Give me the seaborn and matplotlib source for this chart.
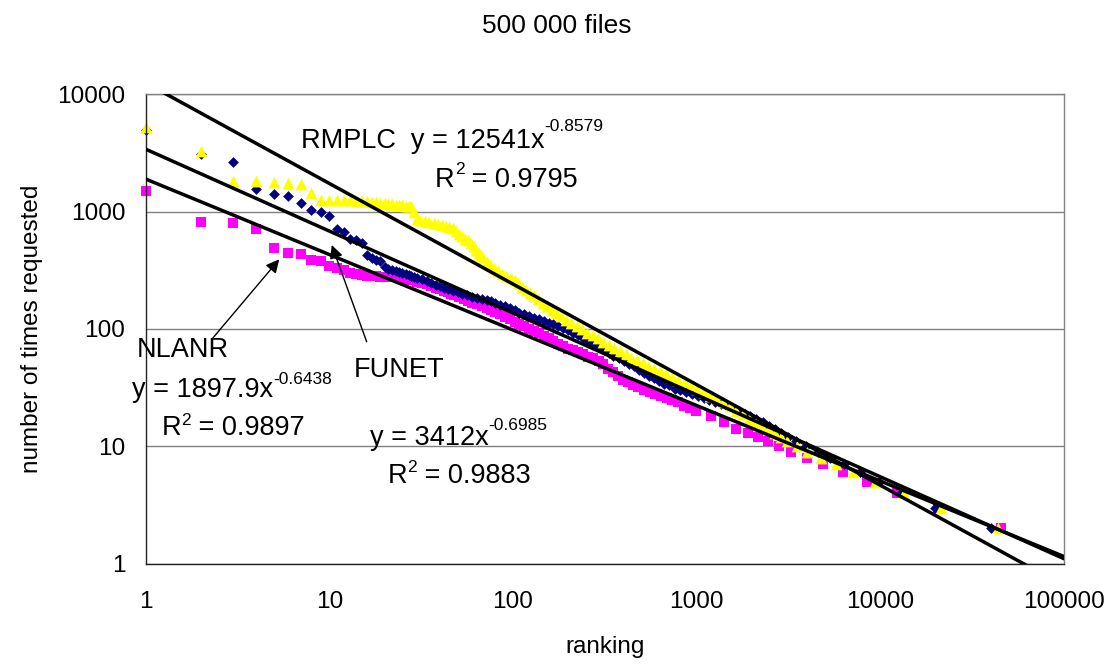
import numpy as np
import pandas as pd
import matplotlib
matplotlib.use("Agg")
import matplotlib.pyplot as plt
import seaborn as sns

# ---------------------------------------------------------------------------
# Request counts per file, ordered by popularity rank (one point per distinct count)
# ---------------------------------------------------------------------------
rmplc_rank = [1, 2, 3, 4, 5, 6, 7, 8, 9, 10, 11, 12, 13, 14, 15, 16, 17, 18, 19, 20,
              21, 22, 23, 24, 25, 26, 27, 28, 29, 30, 31, 33, 35, 37, 39, 41, 43, 45,
              47, 49, 51, 53, 55, 57, 59, 61, 63, 65, 67, 69, 72, 75, 79, 83, 87, 92,
              97, 102, 107, 112, 118, 124, 130, 137, 145, 153, 162, 172, 183, 195,
              208, 222, 237, 253, 271, 290, 310, 332, 356, 382, 410, 440, 472, 507,
              545, 585, 630, 680, 735, 795, 860, 930, 1005, 1090, 1180, 1280, 1390,
              1510, 1640, 1780, 1930, 2090, 2270, 2460, 2660, 2870, 3100, 3500, 4000,
              4750, 5700, 7100, 9300, 13400, 21200, 43500]
rmplc_count = [5300, 3300, 1840, 1830, 1800, 1770, 1720, 1450, 1260, 1258, 1255, 1250,
               1245, 1240, 1230, 1220, 1210, 1200, 1190, 1180, 1170, 1160, 1150, 1140,
               1130, 1125, 1118, 1110, 990, 870, 850, 830, 810, 795, 780, 765, 752, 740,
               722, 690, 650, 615, 590, 570, 540, 505, 475, 445, 425, 400, 370, 350, 330,
               310, 295, 283, 272, 260, 245, 230, 215, 203, 193, 181, 168, 156, 145, 136,
               128, 120, 112, 105, 99, 93, 88, 83, 78, 73, 69, 65, 61, 57, 54, 51, 48,
               46, 44, 41, 39, 37, 35, 33, 31, 29, 27, 26, 24, 22, 20, 19, 17, 16, 15,
               14, 13, 12, 11, 10, 9, 8, 7, 6, 5, 4, 3, 2]

funet_rank = [1, 2, 3, 4, 5, 6, 7, 8, 9, 10, 11, 12, 13, 14, 15, 16, 17, 18, 19, 20,
              21, 22, 23, 24, 25, 26, 27, 28, 29, 30, 32, 34, 36, 38, 40, 42, 44, 47,
              50, 53, 56, 60, 64, 68, 72, 76, 80, 85, 90, 96, 102, 108, 115, 122, 130,
              138, 147, 156, 166, 176, 187, 199, 212, 226, 241, 257, 274, 292, 311,
              331, 352, 375, 400, 426, 454, 483, 515, 550, 585, 625, 665, 710, 760,
              815, 875, 940, 1010, 1090, 1170, 1260, 1360, 1460, 1570, 1690, 1820,
              1960, 2110, 2280, 2460, 2660, 2880, 3130, 3450, 3950, 4550, 5300, 6300,
              7700, 9800, 13000, 19700, 39700]
funet_count = [5000, 3100, 2670, 1560, 1410, 1360, 1190, 1030, 1000, 920, 710, 667, 585,
               575, 545, 428, 401, 388, 378, 336, 326, 318, 312, 305, 299, 294, 289, 284,
               279, 273, 264, 255, 246, 238, 231, 225, 219, 212, 205, 199, 194, 189, 185,
               181, 177, 172, 167, 161, 156, 150, 144, 138, 133, 128, 124, 121, 117, 113,
               110, 106, 102, 98, 93, 88, 84, 79, 75, 70, 66, 62, 59, 56, 53, 50, 48, 45,
               42, 40, 38, 36, 34, 33, 31, 30, 29, 28, 27, 26, 25, 24, 23, 22, 21, 20,
               19, 18, 17, 16, 15, 14, 13, 12, 11, 10, 9, 8, 7, 6, 5, 4, 3, 2]

nlanr_rank = [1, 2, 3, 4, 5, 6, 7, 8, 9, 10, 11, 12, 13, 14, 15, 16, 17, 18, 19, 20,
              21, 22, 23, 24, 25, 26, 28, 30, 32, 34, 36, 38, 40, 42, 44, 46, 48, 51,
              54, 57, 60, 64, 68, 72, 76, 80, 85, 90, 96, 102, 108, 115, 122, 130, 138,
              147, 156, 166, 176, 187, 199, 212, 226, 241, 257, 274, 292, 310, 330, 350,
              372, 396, 421, 450, 480, 515, 555, 595, 640, 685, 735, 790, 852, 920, 990,
              1195, 1405, 1633, 1900, 2153, 2443, 2805, 3260, 3985, 4860, 6240, 8450,
              12300, 20500, 45000]
nlanr_count = [1500, 810, 800, 710, 488, 447, 433, 387, 376, 345, 330, 318, 300, 292, 286,
               283, 281, 280, 279, 278, 277, 276, 275, 274, 271, 268, 262, 252, 246, 240,
               232, 224, 218, 211, 205, 199, 193, 186, 180, 174, 168, 162, 156, 150, 144,
               139, 133, 127, 121, 115, 110, 105, 100, 96, 92, 87, 83, 79, 75, 71, 68, 66,
               63, 61, 58, 56, 53, 50, 46, 43, 40, 37, 35, 33, 32, 30, 29, 28, 27, 26, 25,
               24, 22, 21, 20, 18, 16, 14, 13, 12, 11, 10, 9, 8, 7, 6, 5, 4, 3, 2]

# Power-law trendlines y = a * x^b with their coefficients of determination
fit_a = {"RMPLC": 12541, "FUNET": 3412, "NLANR": 1897.9}
fit_b = {"RMPLC": -0.8579, "FUNET": -0.6985, "NLANR": -0.6438}
fit_r2 = {"RMPLC": "0.9795", "FUNET": "0.9883", "NLANR": "0.9897"}

x_ticks = [1, 10, 100, 1000, 10000, 100000]
x_tick_labels = ["1", "10", "100", "1000", "10000", "100000"]
y_ticks = [1, 10, 100, 1000, 10000]
y_tick_labels = ["1", "10", "100", "1000", "10000"]

# ---------------------------------------------------------------------------
sns.set_style("white")
plt.rcParams["font.family"] = ["Liberation Sans", "DejaVu Sans"]
plt.rcParams["text.color"] = "black"
plt.rcParams["axes.labelcolor"] = "black"

FIG_W, FIG_H = 1117, 664
fig = plt.figure(figsize=(FIG_W / 100, FIG_H / 100), dpi=100)
ax = fig.add_axes([0.13026, 0.15120, 0.95282 - 0.13026, 0.85798 - 0.15120])

series = [
    ("NLANR", nlanr_rank, nlanr_count, "#FF00FF", "s", 46),
    ("FUNET", funet_rank, funet_count, "#000080", "D", 30),
    ("RMPLC", rmplc_rank, rmplc_count, "#FFFF00", "^", 72),
]
for name, rk, ct, color, marker, size in series:
    df = pd.DataFrame({"ranking": rk, "requests": ct})
    sns.scatterplot(data=df, x="ranking", y="requests", ax=ax, color=color,
                    marker=marker, s=size, linewidth=0, legend=False,
                    zorder=2, clip_on=False)

ax.set_xscale("log")
ax.set_yscale("log")
ax.set_xlim(1, 100000)
ax.set_ylim(1, 10000)

# trendlines across the whole ranking range
xs = np.logspace(0, 5, 400)
for name in ["RMPLC", "FUNET", "NLANR"]:
    sns.lineplot(x=xs, y=fit_a[name] * xs ** fit_b[name], ax=ax, color="black",
                 linewidth=2.5, zorder=3, legend=False)

ax.set_xticks(x_ticks)
ax.set_xticklabels(x_tick_labels)
ax.set_yticks(y_ticks)
ax.set_yticklabels(y_tick_labels)
ax.xaxis.set_minor_locator(matplotlib.ticker.NullLocator())
ax.yaxis.set_minor_locator(matplotlib.ticker.NullLocator())
ax.tick_params(axis="both", which="major", direction="out", length=6.5, width=1.0,
               color="black", labelsize=17.6, labelcolor="black")
ax.tick_params(axis="x", pad=13)
ax.tick_params(axis="y", pad=8)

ax.yaxis.grid(True, color="#808080", linewidth=1.0)
ax.xaxis.grid(False)
ax.set_axisbelow(True)

for side in ["left", "bottom"]:
    ax.spines[side].set_color("#222222")
    ax.spines[side].set_linewidth(1.0)
for side in ["top", "right"]:
    ax.spines[side].set_color("#808080")
    ax.spines[side].set_linewidth(1.0)

ax.set_xlabel("ranking", fontsize=17.5)
ax.set_ylabel("number of times requested", fontsize=17.5)
ax.xaxis.set_label_coords(0.5, -0.155)
ax.yaxis.set_label_coords(-0.112, 0.5)

fig.text(0.4987, 0.9498, "500 000 files", ha="center", va="baseline", fontsize=19)

FS = 19.5
SFS = 12.5


def sup_text(base, sup, fx, fy, fy_sup, tail=None):
    """Base text followed by a raised superscript and an optional trailing part."""
    t = ax.text(fx, fy, base, transform=ax.transAxes, fontsize=FS,
                ha="left", va="baseline", zorder=5)
    s = ax.annotate(sup, xy=(1.0, fy_sup), xycoords=(t, ax.transAxes),
                    fontsize=SFS, ha="left", va="top", zorder=5,
                    annotation_clip=False)
    if tail is not None:
        ax.annotate(tail, xy=(1.0, fy), xycoords=(s, ax.transAxes), fontsize=FS,
                    ha="left", va="baseline", zorder=5, annotation_clip=False)


def eq_parts(name):
    a = fit_a[name]
    a_txt = f"{a:g}"
    return f"y = {a_txt}x", f"{fit_b[name]:g}"


# RMPLC
base, sup = eq_parts("RMPLC")
sup_text("RMPLC  " + base, sup, 0.1692, 0.8849, 0.9474)
sup_text("R", "2", 0.3151, 0.8035, 0.8557, tail=" = " + fit_r2["RMPLC"])

# NLANR
ax.text(-0.0096, 0.4409, "NLANR", transform=ax.transAxes, fontsize=FS,
        ha="left", va="baseline", zorder=5)
base, sup = eq_parts("NLANR")
sup_text(base, sup, -0.0150, 0.3544, 0.4089)
sup_text("R", "2", 0.01763, 0.2740, 0.3203, tail=" = " + fit_r2["NLANR"])

# FUNET
ax.text(0.2262, 0.3983, "FUNET", transform=ax.transAxes, fontsize=FS,
        ha="left", va="baseline", zorder=5)
base, sup = eq_parts("FUNET")
sup_text(base, sup, 0.2443, 0.2527, 0.3096)
sup_text("R", "2", 0.2632, 0.1724, 0.2208, tail=" = " + fit_r2["FUNET"])

# pointer arrows from the labels to their series
arrow = dict(arrowstyle="-|>", color="black", lw=1.0, mutation_scale=20,
             shrinkA=0, shrinkB=0)
ax.annotate("", xy=(0.1456, 0.6484), xytext=(0.0724, 0.4786),
            xycoords="axes fraction", textcoords="axes fraction",
            arrowprops=arrow, zorder=6)
ax.annotate("", xy=(0.2027, 0.6789), xytext=(0.2407, 0.4728),
            xycoords="axes fraction", textcoords="axes fraction",
            arrowprops=arrow, zorder=6)

fig.savefig("out.png", dpi=100)
